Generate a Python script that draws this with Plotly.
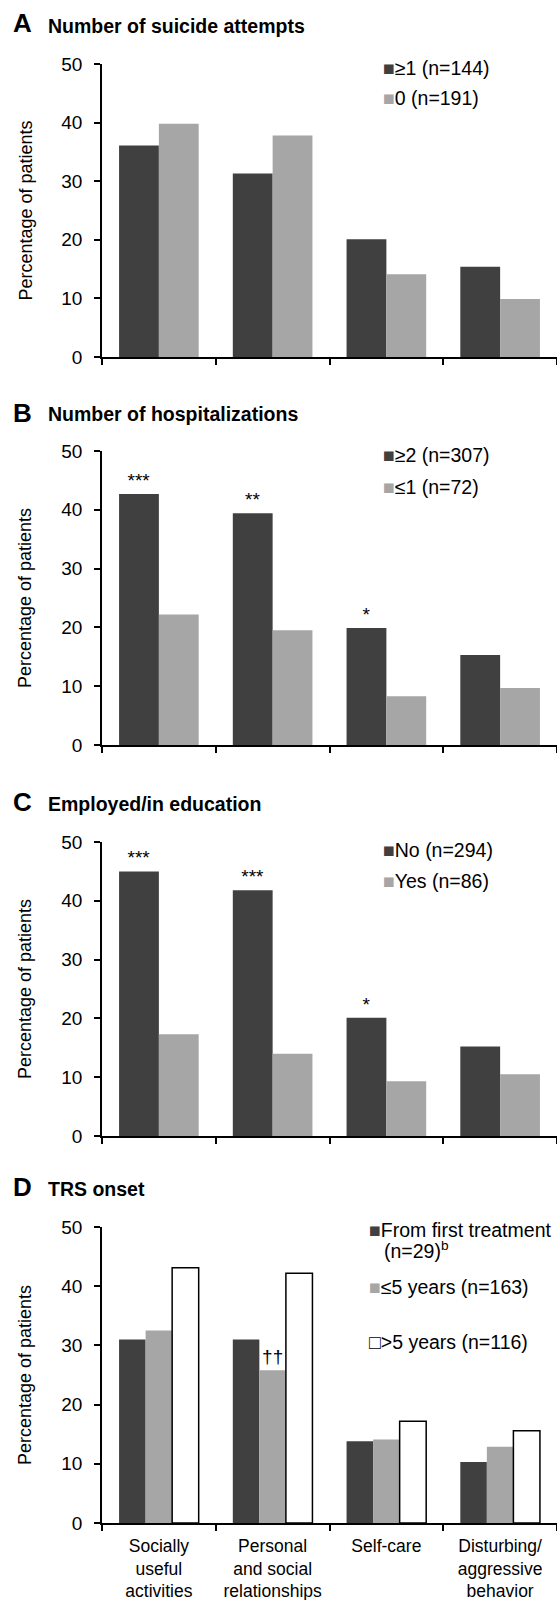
import plotly.graph_objects as go

W, H = 557, 1600

categories = ["Socially<br>useful<br>activities", "Personal<br>and social<br>relationships",
              "Self-care", "Disturbing/<br>aggressive<br>behavior"]

# Panel A: Number of suicide attempts
A_ge1 = [36.1, 31.3, 20.1, 15.4]
A_0 = [39.8, 37.8, 14.1, 9.9]
# Panel B: Number of hospitalizations
B_ge2 = [42.7, 39.4, 19.9, 15.3]
B_le1 = [22.2, 19.5, 8.3, 9.7]
B_sig = ["***", "**", "*", None]
# Panel C: Employed/in education
C_no = [45.0, 41.8, 20.1, 15.2]
C_yes = [17.3, 14.0, 9.3, 10.5]
C_sig = ["***", "***", "*", None]
# Panel D: TRS onset
D_first = [31.0, 31.0, 13.8, 10.3]
D_le5 = [32.5, 25.8, 14.1, 12.9]
D_gt5 = [43.1, 42.2, 17.2, 15.6]
D_sig = [None, "††", None, None]

panel_letters = ["A", "B", "C", "D"]
panel_titles = ["Number of suicide attempts", "Number of hospitalizations",
                "Employed/in education", "TRS onset"]
y_title = "Percentage of patients"
y_ticks = [0, 10, 20, 30, 40, 50]

DARK = "#404040"
GRAY = "#a6a6a6"
FONT = "Liberation Sans, Arial, sans-serif"

# pixel geometry of each panel's plotting area (top, bottom)
panels_px = [(64, 357), (451, 745), (842, 1136), (1227, 1523)]
x_left_px = 102


def py(px):
    return 1 - px / H


def pxx(px):
    return px / W


fig = go.Figure()

series = [
    [(A_ge1, DARK, None), (A_0, GRAY, None)],
    [(B_ge2, DARK, B_sig), (B_le1, GRAY, None)],
    [(C_no, DARK, C_sig), (C_yes, GRAY, None)],
    [(D_first, DARK, None), (D_le5, GRAY, D_sig), (D_gt5, "white", None)],
]

for i, panel in enumerate(series):
    ax = "" if i == 0 else str(i + 1)
    for vals, col, sig in panel:
        kw = {}
        if sig:
            kw = dict(text=sig, textposition="outside", constraintext="none",
                      textfont=dict(size=19, color="black", family=FONT))
        fig.add_trace(go.Bar(
            x=categories, y=vals,
            marker=dict(color=col,
                        line=dict(color="black" if col == "white" else col,
                                  width=1.5 if col == "white" else 0)),
            cliponaxis=False,
            xaxis="x" + ax, yaxis="y" + ax,
            showlegend=False, hoverinfo="skip",
            **kw
        ))

layout = dict(
    width=W, height=H,
    margin=dict(l=0, r=0, t=0, b=0),
    paper_bgcolor="white", plot_bgcolor="white",
    barmode="group", bargap=0.3, bargroupgap=0,
    font=dict(family=FONT, size=19, color="black"),
    template="none",
    showlegend=False,
)

for i, (top, bot) in enumerate(panels_px):
    ax = "" if i == 0 else str(i + 1)
    layout["xaxis" + ax] = dict(
        domain=[pxx(x_left_px), 1], anchor="y" + ax,
        type="category", tickson="boundaries",
        showline=True, linecolor="black", linewidth=1.5,
        ticks="outside", ticklen=6, tickwidth=1.5, tickcolor="black",
        showticklabels=(i == 3), tickfont=dict(size=17.5), ticklabelstandoff=6,
        showgrid=False, zeroline=False, automargin=False,
        range=[-0.5, 3.5],
    )
    layout["yaxis" + ax] = dict(
        domain=[py(bot), py(top)], anchor="x" + ax,
        range=[0, 50], tickvals=y_ticks,
        showline=True, linecolor="black", linewidth=1.5,
        ticks="outside", ticklen=6, tickwidth=1.5, tickcolor="black",
        tickfont=dict(size=19), ticklabelstandoff=8,
        showgrid=False, zeroline=False, automargin=False,
    )

fig.update_layout(**layout)

ann = []
baselines = [32, 421, 810, 1195]
for i, (top, bot) in enumerate(panels_px):
    b = baselines[i]
    ann.append(dict(text="<b>%s</b>" % panel_letters[i], x=pxx(11), y=py(b - 8.5),
                    xref="paper", yref="paper", xanchor="left", yanchor="middle",
                    showarrow=False, font=dict(size=26)))
    ann.append(dict(text="<b>%s</b>" % panel_titles[i], x=pxx(46), y=py(b - 6.5),
                    xref="paper", yref="paper", xanchor="left", yanchor="middle",
                    showarrow=False, font=dict(size=19.5)))
    ann.append(dict(text=y_title, x=pxx(25), y=py((top + bot) / 2),
                    xref="paper", yref="paper", xanchor="center", yanchor="middle",
                    textangle=-90, showarrow=False, font=dict(size=18)))

legends = [
    [("■", DARK, "≥1 (n=144)", 68), ("■", GRAY, "0 (n=191)", 98)],
    [("■", DARK, "≥2 (n=307)", 455), ("■", GRAY, "≤1 (n=72)", 487)],
    [("■", DARK, "No (n=294)", 850), ("■", GRAY, "Yes (n=86)", 881)],
    [("■", DARK, "From first treatment", 1230), ("■", GRAY, "≤5 years (n=163)", 1287),
     ("□", "black", ">5 years (n=116)", 1342)],
]
for i, items in enumerate(legends):
    x0 = 381 if i < 3 else 367
    for sym, col, label, yc in items:
        ann.append(dict(text="<span style='color:%s'>%s</span>%s" % (col, sym, label),
                        x=pxx(x0), y=py(yc), xref="paper", yref="paper",
                        xanchor="left", yanchor="middle", showarrow=False,
                        font=dict(size=19.5)))
ann.append(dict(text="(n=29)<sup>b</sup>", x=pxx(382), y=py(1250), xref="paper", yref="paper",
                xanchor="left", yanchor="middle", showarrow=False, font=dict(size=19.5)))

fig.update_layout(annotations=ann)
fig.write_html(
    "out.html",
    config={"displayModeBar": False},
    post_script="document.documentElement.style.margin='0';document.body.style.margin='0';"
                "document.documentElement.style.overflow='hidden';document.body.style.overflow='hidden';",
)
